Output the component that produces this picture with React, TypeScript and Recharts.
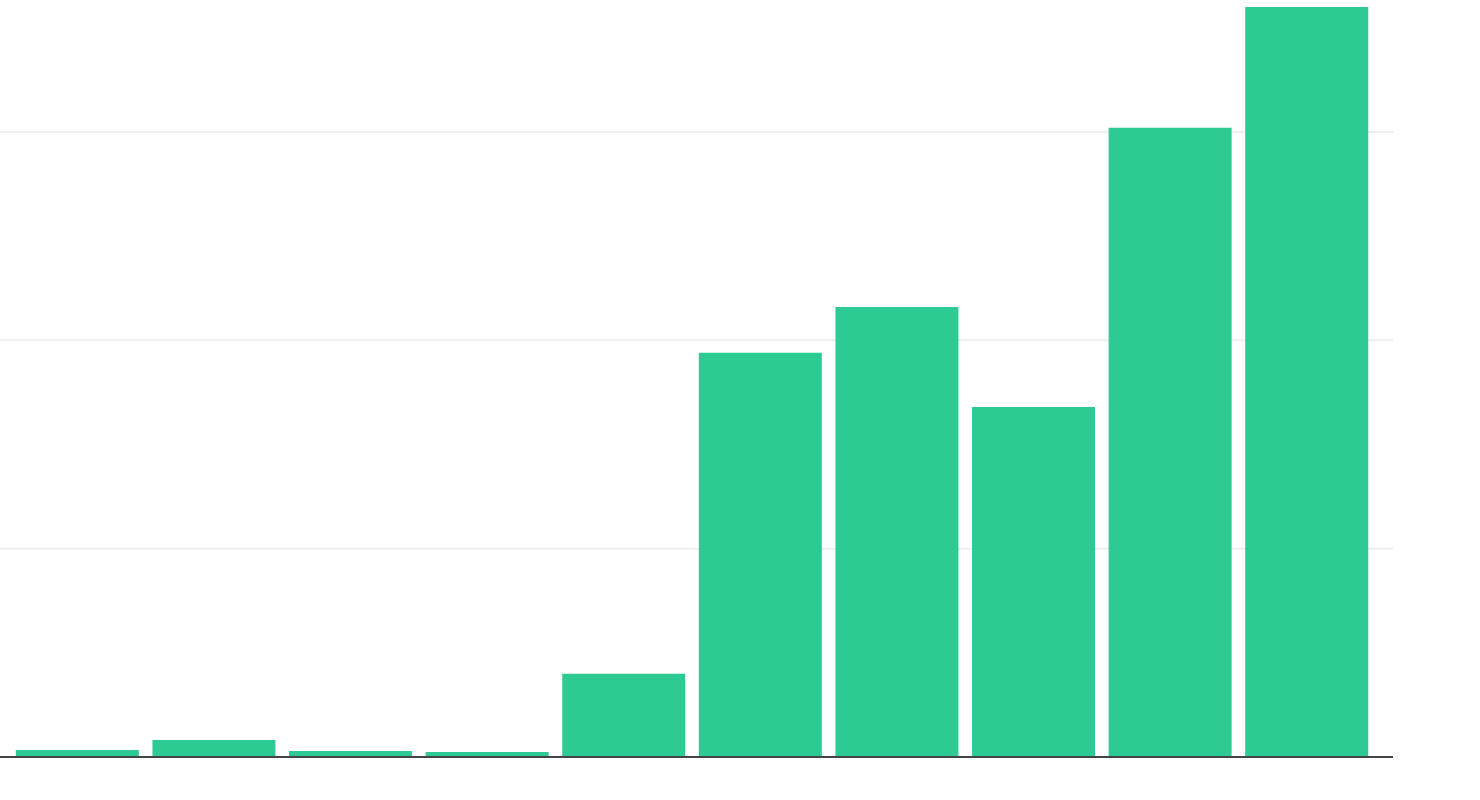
import { BarChart, Bar, XAxis, YAxis, CartesianGrid } from 'recharts'

// no tick labels in the picture, so the categories are just placeholders
const categories = ['1', '2', '3', '4', '5', '6', '7', '8', '9', '10']
const values = [3.4, 8.2, 2.9, 2.4, 40, 194, 216, 168, 302, 360]
const yTicks = [0, 100, 200, 300]

const data = categories.map((name, i) => ({ name, value: values[i] }))

export default function App() {
  return (
    <div style={{ position: 'fixed', left: 0, top: 0, width: 1480, height: 800, background: '#fff' }}>
      <BarChart
        width={1480}
        height={800}
        data={data}
        margin={{ top: 7, right: 87, left: 0, bottom: 42 }}
        barCategoryGap="5%"
      >
        <CartesianGrid vertical={false} horizontalValues={yTicks} stroke="#eeeeee" strokeWidth={2} />
        <XAxis
          dataKey="name"
          height={1}
          tick={false}
          tickLine={false}
          padding={{ left: 9, right: 18 }}
          axisLine={{ stroke: '#444444', strokeWidth: 2 }}
        />
        <YAxis hide width={0} domain={[0, 360]} ticks={yTicks} />
        <Bar dataKey="value" fill="#2eca94" isAnimationActive={false} />
      </BarChart>
    </div>
  )
}
